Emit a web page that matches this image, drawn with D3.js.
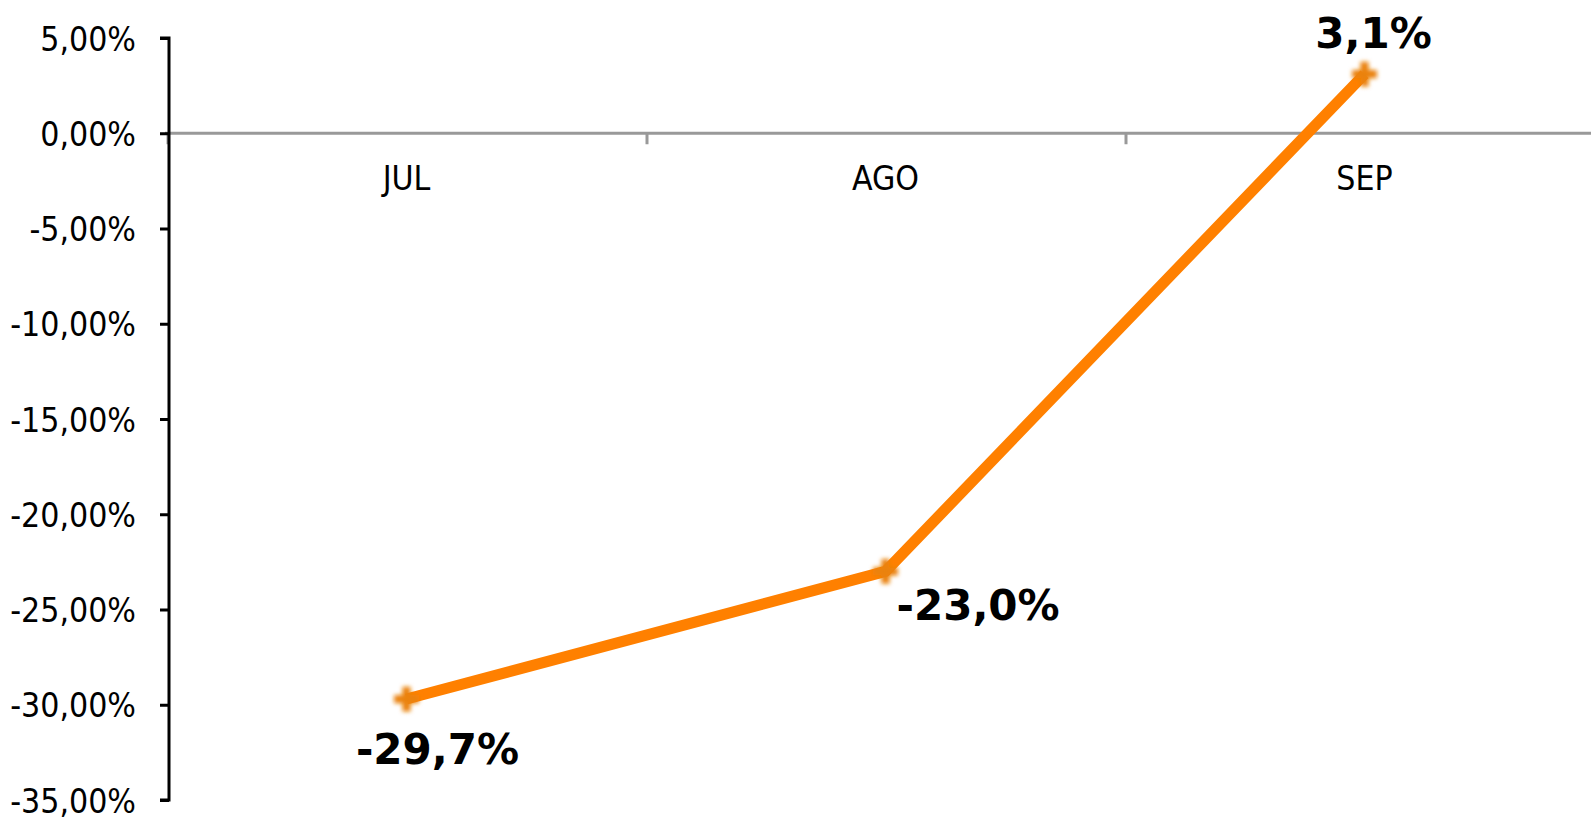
<!DOCTYPE html>
<html lang="es">
<head>
<meta charset="UTF-8">
<title>Variación mensual</title>
<style>
  body { margin: 0; background: #fff; }
  .tick-label { font-family: "DejaVu Sans Condensed", "DejaVu Sans", sans-serif; font-stretch: condensed; font-size: 33.5px; fill: #000; }
  .data-label { font-family: "DejaVu Sans", sans-serif; font-weight: bold; font-size: 42px; fill: #000; }
</style>
</head>
<body>
<svg width="1591" height="823"></svg>
<script src="https://cdn.jsdelivr.net/npm/d3@7"></script>
<script>
const months = ["JUL", "AGO", "SEP"];
const values = [-29.7, -23.0, 3.1];
const labels = ["-29,7%", "-23,0%", "3,1%"];
const yTicks = [5, 0, -5, -10, -15, -20, -25, -30, -35];

const svg = d3.select("svg");

const x = d3.scaleBand().domain(months).range([167, 1604]);
const y = d3.scaleLinear().domain([-35, 5]).range([800, 38]);

const fmt = v => d3.format(".2f")(v).replace(".", ",").replace("−", "-") + "%";

// blur for the markers
svg.append("defs").append("filter")
    .attr("id", "soft")
    .attr("x", "-50%").attr("y", "-50%").attr("width", "200%").attr("height", "200%")
  .append("feGaussianBlur")
    .attr("stdDeviation", 2);

// zero line with category ticks
svg.append("line")
    .attr("x1", 165).attr("x2", 1591)
    .attr("y1", y(0)).attr("y2", y(0))
    .attr("stroke", "#999").attr("stroke-width", 3);

svg.append("g").selectAll("line")
    .data(months)
    .join("line")
    .attr("x1", d => x(d) + 1).attr("x2", d => x(d) + 1)
    .attr("y1", y(0)).attr("y2", y(0) + 11)
    .attr("stroke", "#999").attr("stroke-width", 3);

// category labels
svg.append("g").selectAll("text")
    .data(months)
    .join("text")
    .attr("class", "tick-label")
    .attr("x", d => x(d) + x.bandwidth() / 2)
    .attr("y", 190)
    .attr("text-anchor", "middle")
    .text(d => d);

// y axis
const yAxis = d3.axisLeft(y)
    .tickValues(yTicks)
    .tickSize(9)
    .tickPadding(24)
    .tickFormat(fmt);

const gy = svg.append("g")
    .attr("transform", "translate(169,0)")
    .call(yAxis);
gy.attr("font-size", null).attr("font-family", null);
gy.select(".domain").attr("stroke", "#000").attr("stroke-width", 3)
    .attr("d", "M-9," + y(5) + "H0V" + y(-35) + "H-9");
gy.selectAll(".tick line").attr("stroke", "#000").attr("stroke-width", 3);
gy.selectAll(".tick text")
    .attr("class", "tick-label")
    .attr("dy", "0.36em");

// series
const pts = months.map((m, i) => ({ m: m, v: values[i], label: labels[i] }));
const cx = d => x(d.m) + x.bandwidth() / 2;

svg.append("path")
    .datum(pts)
    .attr("fill", "none")
    .attr("stroke", "#FF8000")
    .attr("stroke-width", 11)
    .attr("stroke-linejoin", "round")
    .attr("d", d3.line().x(cx).y(d => y(d.v)));

svg.append("g").selectAll("path")
    .data(pts)
    .join("path")
    .attr("transform", d => "translate(" + cx(d) + "," + y(d.v) + ")")
    .attr("d", d3.symbol().type(d3.symbolCross).size(340))
    .attr("fill", "#EA8209")
    .attr("filter", "url(#soft)");

// data labels: below, right, above
const place = {
  JUL: { dx: 31, dy: 65, anchor: "middle" },
  AGO: { dx: 11, dy: 49, anchor: "start" },
  SEP: { dx: 9, dy: -26, anchor: "middle" }
};
svg.append("g").selectAll("text")
    .data(pts)
    .join("text")
    .attr("class", "data-label")
    .attr("x", d => cx(d) + place[d.m].dx)
    .attr("y", d => y(d.v) + place[d.m].dy)
    .attr("text-anchor", d => place[d.m].anchor)
    .text(d => d.label);
</script>
</body>
</html>
